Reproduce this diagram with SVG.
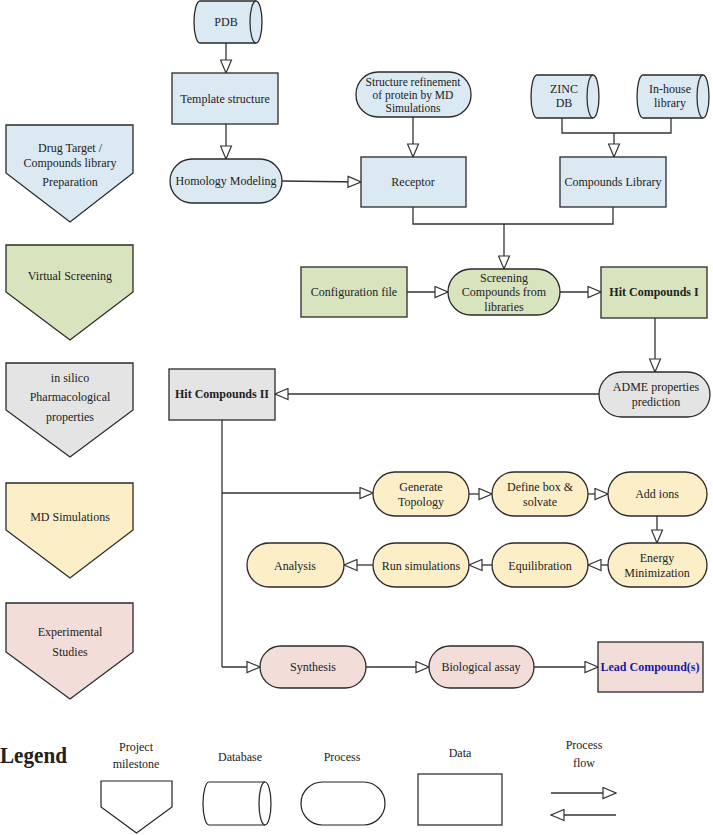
<svg xmlns="http://www.w3.org/2000/svg" width="713" height="835" viewBox="0 0 713 835">
<defs>
<marker id="a" viewBox="0 0 15 13" refX="14" refY="6.5" markerWidth="15" markerHeight="13" orient="auto" markerUnits="userSpaceOnUse">
<path d="M1,1 L14,6.5 L1,12 Z" fill="#fff" stroke="#333" stroke-width="1.2"/>
</marker>
</defs>
<style>
text{font-family:"Liberation Serif","Times New Roman",serif;font-size:12px;fill:#222;text-anchor:middle}
.s{stroke:#2a2a2a;stroke-width:1.3}
.blue{fill:#dbe9f3}
.green{fill:#d8e4be}
.gray{fill:#e4e4e4}
.yel{fill:#fcefc8}
.pink{fill:#f3ddd9}
.b{font-weight:bold}
.c{fill:none;stroke:#333;stroke-width:1.3}
.ca{fill:none;stroke:#333;stroke-width:1.3;marker-end:url(#a)}
.lg{fill:#fff;stroke:#222;stroke-width:1.2}
</style>
<rect width="713" height="835" fill="#fff"/>

<!-- Milestones -->
<g id="m1"><path class="s blue" d="M6,125 H133 V173 L70,222 L6,173 Z"/><text x="70" y="152">Drug Target /</text><text x="70" y="167">Compounds library</text><text x="70" y="186">Preparation</text></g>
<g id="m2"><path class="s green" d="M6,245 H133 V292 L70,340 L6,292 Z"/><text x="70" y="280">Virtual Screening</text></g>
<g id="m3"><path class="s gray" d="M6,363 H133 V410 L70,457 L6,410 Z"/><text x="70" y="382">in silico</text><text x="70" y="401">Pharmacological</text><text x="70" y="421">properties</text></g>
<g id="m4"><path class="s yel" d="M6,483 H133 V530 L70,578 L6,530 Z"/><text x="70" y="521">MD Simulations</text></g>
<g id="m5"><path class="s pink" d="M6,603 H133 V652 L70,699 L6,652 Z"/><text x="70" y="636">Experimental</text><text x="70" y="656">Studies</text></g>

<!-- Connectors -->
<g id="connectors">
<path class="ca" d="M226,43 V73"/>
<path class="ca" d="M226,124 V159"/>
<path class="ca" d="M282,181 L361,182"/>
<path class="ca" d="M413,117 V157"/>
<path class="c" d="M562,118 V133 H671 V118"/>
<path class="ca" d="M614,133 V157"/>
<path class="c" d="M413,207 V224 H613 V207"/>
<path class="ca" d="M504,224 V269"/>
<path class="ca" d="M407,292 H448"/>
<path class="ca" d="M560,292 H601"/>
<path class="ca" d="M655,318 V372"/>
<path class="ca" d="M599,394 H275"/>
<path class="c" d="M222,420 V667"/>
<path class="ca" d="M222,493 H373"/>
<path class="ca" d="M469,494 H492"/>
<path class="ca" d="M588,494 H608"/>
<path class="ca" d="M657,516 V543"/>
<path class="ca" d="M608,565 H588"/>
<path class="ca" d="M492,565 H469"/>
<path class="ca" d="M373,565 H344"/>
<path class="ca" d="M222,667 H260"/>
<path class="ca" d="M366,667 H429"/>
<path class="ca" d="M534,667 H598"/>
</g>

<!-- Nodes -->
<g id="pdb"><path class="s blue" d="M200,1 H256 A6,21 0 0 1 256,43 H200 A6,21 0 0 1 200,1 Z"/><path class="c" d="M256,1 A6,21 0 0 0 256,43"/><text x="226" y="26">PDB</text></g>
<g id="template"><rect class="s blue" x="172" y="73" width="106" height="51"/><text x="225" y="103">Template structure</text></g>
<g id="homology"><rect class="s blue" x="170" y="159" width="112" height="44" rx="22"/><text x="226" y="185">Homology Modeling</text></g>
<g id="refine"><rect class="s blue" x="356" y="72" width="115" height="45" rx="22"/><text x="413" y="86" style="font-size:11.5px">Structure refinement</text><text x="413" y="99" style="font-size:11.5px">of protein by MD</text><text x="413" y="112" style="font-size:11.5px">Simulations</text></g>
<g id="zinc"><path class="s blue" d="M537,75 H593 A6,21.5 0 0 1 593,118 H537 A6,21.5 0 0 1 537,75 Z"/><path class="c" d="M593,75 A6,21.5 0 0 0 593,118"/><text x="564" y="93">ZINC</text><text x="564" y="107">DB</text></g>
<g id="inhouse"><path class="s blue" d="M643,75 H703 A6,21.5 0 0 1 703,118 H643 A6,21.5 0 0 1 643,75 Z"/><path class="c" d="M703,75 A6,21.5 0 0 0 703,118"/><text x="670" y="93">In-house</text><text x="670" y="107">library</text></g>
<g id="receptor"><rect class="s blue" x="361" y="157" width="105" height="50"/><text x="413" y="186">Receptor</text></g>
<g id="complib"><rect class="s blue" x="560" y="157" width="106" height="50"/><text x="613" y="186">Compounds Library</text></g>
<g id="config"><rect class="s green" x="301" y="267" width="106" height="50"/><text x="354" y="296">Configuration file</text></g>
<g id="screening"><rect class="s green" x="448" y="269" width="112" height="46" rx="23"/><text x="504" y="282">Screening</text><text x="504" y="296">Compounds from</text><text x="504" y="311">libraries</text></g>
<g id="hit1"><rect class="s green" x="601" y="267" width="106" height="51"/><text class="b" x="654" y="296">Hit Compounds I</text></g>
<g id="adme"><rect class="s gray" x="599" y="372" width="111" height="45" rx="22.5"/><text x="656" y="391">ADME properties</text><text x="656" y="406">prediction</text></g>
<g id="hit2"><rect class="s gray" x="169" y="369" width="106" height="51"/><text class="b" x="222" y="398">Hit Compounds II</text></g>
<g id="gentop"><rect class="s yel" x="373" y="472" width="96" height="44" rx="22"/><text x="421" y="491">Generate</text><text x="421" y="506">Topology</text></g>
<g id="definebox"><rect class="s yel" x="492" y="472" width="96" height="44" rx="22"/><text x="540" y="491">Define box &amp;</text><text x="540" y="506">solvate</text></g>
<g id="addions"><rect class="s yel" x="608" y="472" width="99" height="44" rx="22"/><text x="657" y="498">Add ions</text></g>
<g id="energy"><rect class="s yel" x="608" y="543" width="99" height="44" rx="22"/><text x="657" y="562">Energy</text><text x="657" y="577">Minimization</text></g>
<g id="equil"><rect class="s yel" x="492" y="543" width="96" height="44" rx="22"/><text x="540" y="570">Equilibration</text></g>
<g id="runsim"><rect class="s yel" x="373" y="543" width="96" height="44" rx="22"/><text x="421" y="570">Run simulations</text></g>
<g id="analysis"><rect class="s yel" x="247" y="543" width="97" height="44" rx="22"/><text x="295" y="570">Analysis</text></g>
<g id="synthesis"><rect class="s pink" x="260" y="646" width="106" height="42" rx="21"/><text x="313" y="671">Synthesis</text></g>
<g id="bioassay"><rect class="s pink" x="429" y="646" width="105" height="42" rx="21"/><text x="481" y="671">Biological assay</text></g>
<g id="lead"><rect class="s pink" x="598" y="642" width="105" height="50"/><text class="b" x="650" y="671" style="fill:#1a1aa8">Lead Compound(s)</text></g>

<!-- Legend -->
<g id="legend">
<text x="0" y="763" class="b" style="text-anchor:start;font-size:23px" textLength="67" lengthAdjust="spacingAndGlyphs">Legend</text>
<text x="136" y="751">Project</text><text x="136" y="768">milestone</text>
<path class="lg" d="M101,781 H172 V807 L136.5,833 L101,807 Z"/>
<text x="240" y="761">Database</text>
<path class="lg" d="M209,782 H265 A6,21.5 0 0 1 265,825 H209 A6,21.5 0 0 1 209,782 Z"/><path class="c" d="M265,782 A6,21.5 0 0 0 265,825"/>
<text x="342" y="761">Process</text>
<rect class="lg" x="301" y="782" width="84" height="43" rx="21.5"/>
<text x="460" y="757">Data</text>
<rect class="lg" x="418" y="774" width="84" height="51"/>
<text x="584" y="749">Process</text><text x="584" y="767">flow</text>
<path class="ca" d="M551,793 H616"/>
<path class="ca" d="M616,815 H551"/>
</g>
</svg>
